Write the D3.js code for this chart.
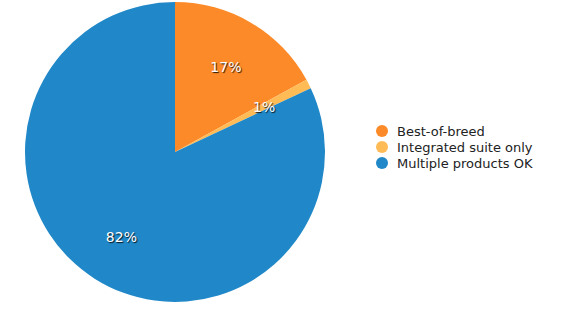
<!DOCTYPE html>
<html>
<head>
<meta charset="utf-8">
<script src="https://cdn.jsdelivr.net/npm/d3@7"></script>
<style>
body { margin: 0; background: #fff; }
svg text { font-family: Verdana, "DejaVu Sans", sans-serif; font-size: 13px; }
.lbl { fill: #fff; font-size: 14px; text-shadow: 1px 1px 1px rgba(0,0,0,0.85); }
</style>
</head>
<body>
<svg id="chart" width="580" height="320"></svg>
<script>
// data
var categories = ["Best-of-breed", "Integrated suite only", "Multiple products OK"];
var values = [17, 1, 82];
var colors = ["#fd8a28", "#ffbb55", "#2088c8"];

var svg = d3.select("#chart");
var cx = 175, cy = 152, radius = 150;

var color = d3.scaleOrdinal().domain(categories).range(colors);

var pie = d3.pie().sort(null).value(function(d) { return d.v; });
var rows = categories.map(function(c, i) { return { name: c, v: values[i] }; });
var arcs = pie(rows);

var arc = d3.arc().innerRadius(0).outerRadius(radius);
var labelArc = d3.arc().innerRadius(radius * 2 / 3).outerRadius(radius * 2 / 3);

var g = svg.append("g").attr("transform", "translate(" + cx + "," + cy + ")");

g.selectAll("path")
  .data(arcs)
  .enter().append("path")
  .attr("d", arc)
  .attr("fill", function(d) { return color(d.data.name); });

g.selectAll("text.lbl")
  .data(arcs)
  .enter().append("text")
  .attr("class", "lbl")
  .attr("transform", function(d) { return "translate(" + labelArc.centroid(d) + ")"; })
  .attr("text-anchor", "middle")
  .attr("dy", "0.4em")
  .text(function(d) { return d.data.v + "%"; });

// legend
var legend = svg.append("g").attr("transform", "translate(382,131)");
var item = legend.selectAll("g")
  .data(categories)
  .enter().append("g")
  .attr("transform", function(d, i) { return "translate(0," + (i * 16) + ")"; });

item.append("circle")
  .attr("r", 6)
  .attr("fill", function(d) { return color(d); });

item.append("text")
  .attr("x", 15)
  .attr("dy", "0.35em")
  .attr("fill", "#222")
  .text(function(d) { return d; });
</script>
</body>
</html>
